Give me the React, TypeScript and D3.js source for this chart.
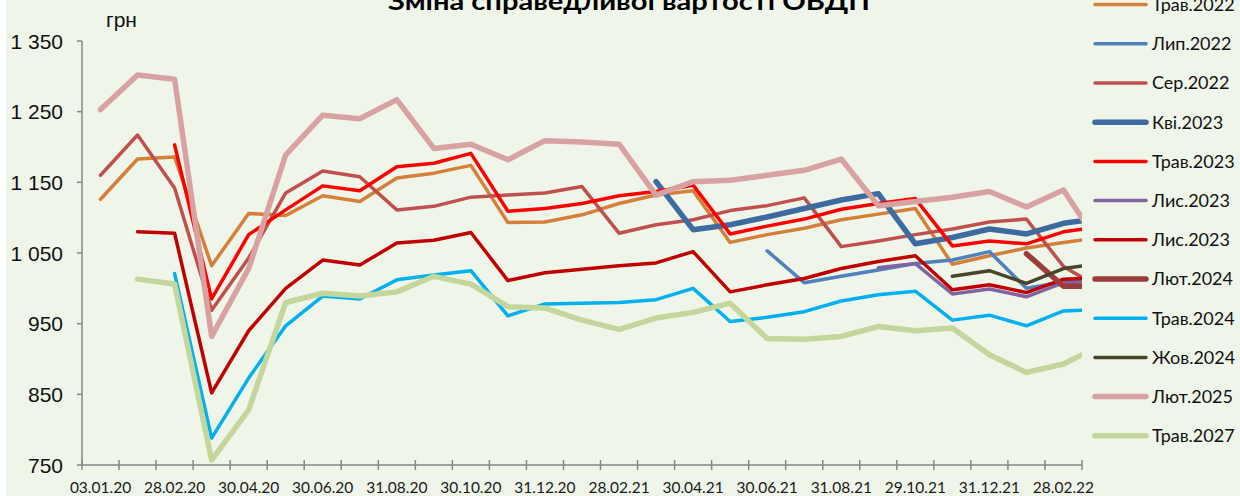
import React, { useRef, useEffect } from "react";
import * as d3 from "d3";

// дати (місячні зрізи), остання точка виходить за межу області графіка
const dates = [
  "03.01.20", "31.01.20", "28.02.20", "31.03.20", "30.04.20", "29.05.20", "30.06.20",
  "31.07.20", "31.08.20", "30.09.20", "30.10.20", "30.11.20", "31.12.20", "29.01.21",
  "28.02.21", "31.03.21", "30.04.21", "31.05.21", "30.06.21", "30.07.21", "31.08.21",
  "30.09.21", "29.10.21", "30.11.21", "31.12.21", "31.01.22", "28.02.22", "31.03.22",
];
const shownBands = 27;

const yTicks = [750, 850, 950, 1050, 1150, 1250, 1350];

const _ = null;
const trav2022 = [1126, 1183, 1186, 1032, 1106, 1103, 1131, 1123, 1156, 1163, 1174, 1093, 1094, 1104, 1120, 1132, 1138, 1065, 1076, 1085, 1097, 1105, 1113, 1034, 1046, 1057, 1065, 1072];
const lyp2022 = [_, _, _, _, _, _, _, _, _, _, _, _, _, _, _, _, _, _, 1053, 1008, 1017, 1026, 1035, 1040, 1052, 1000, 1009, 1011];
const ser2022 = [1160, 1217, 1142, 969, 1043, 1135, 1166, 1158, 1111, 1116, 1129, 1132, 1135, 1144, 1078, 1090, 1097, 1110, 1117, 1128, 1059, 1067, 1076, 1084, 1094, 1098, 1031, 1000];
const kvi2023 = [_, _, _, _, _, _, _, _, _, _, _, _, _, _, _, 1151, 1083, 1090, 1101, 1113, 1125, 1134, 1063, 1072, 1084, 1077, 1092, 1099];
const trav2023 = [_, _, 1203, 985, 1076, 1111, 1145, 1138, 1172, 1177, 1191, 1109, 1113, 1120, 1131, 1137, 1146, 1077, 1088, 1098, 1112, 1120, 1127, 1060, 1067, 1063, 1080, 1087];
const lys2023a = [_, _, _, _, _, _, _, _, _, _, _, _, _, _, _, _, _, _, _, _, _, 1029, 1035, 992, 999, 988, 1008, 1010];
const lys2023b = [_, 1080, 1078, 852, 940, 1000, 1040, 1033, 1064, 1068, 1079, 1011, 1022, 1027, 1032, 1036, 1052, 995, 1005, 1014, 1028, 1038, 1046, 998, 1005, 994, 1013, 1015];
const lyut2024 = [_, _, _, _, _, _, _, _, _, _, _, _, _, _, _, _, _, _, _, _, _, _, _, _, _, 1049, 1003, 1003];
const trav2024 = [_, _, 1021, 788, 873, 947, 989, 985, 1012, 1019, 1025, 961, 978, 979, 980, 984, 1000, 953, 959, 967, 982, 991, 996, 955, 962, 947, 968, 970];
const zhov2024 = [_, _, _, _, _, _, _, _, _, _, _, _, _, _, _, _, _, _, _, _, _, _, _, 1017, 1025, 1007, 1028, 1035];
const lyut2025 = [1253, 1302, 1296, 932, 1028, 1189, 1245, 1240, 1267, 1198, 1204, 1182, 1209, 1207, 1204, 1132, 1151, 1153, 1160, 1167, 1183, 1117, 1123, 1129, 1137, 1115, 1139, 1060];
const trav2027 = [_, 1013, 1006, 757, 828, 980, 993, 989, 995, 1017, 1006, 974, 972, 955, 942, 958, 966, 979, 929, 928, 932, 946, 940, 944, 906, 881, 893, 919];

const series = [
  { name: "Трав.2022", values: trav2022, color: "#D47F3A", w: 3.5 },
  { name: "Лип.2022", values: lyp2022, color: "#4F81BD", w: 3.5 },
  { name: "Сер.2022", values: ser2022, color: "#C0504D", w: 3.5 },
  { name: "Кві.2023", values: kvi2023, color: "#3D6A9F", w: 5.5 },
  { name: "Трав.2023", values: trav2023, color: "#FF0000", w: 3.5 },
  { name: "Лис.2023", values: lys2023a, color: "#8064A2", w: 3.5 },
  { name: "Лис.2023", values: lys2023b, color: "#C00000", w: 3.5 },
  { name: "Лют.2024", values: lyut2024, color: "#9B3D3B", w: 5.5 },
  { name: "Трав.2024", values: trav2024, color: "#00B0F0", w: 3.5 },
  { name: "Жов.2024", values: zhov2024, color: "#4A452A", w: 3.5 },
  { name: "Лют.2025", values: lyut2025, color: "#D8A2A2", w: 5.5 },
  { name: "Трав.2027", values: trav2027, color: "#C3D69B", w: 5.5 },
];

const App = () => {
  const ref = useRef<SVGSVGElement | null>(null);

  useEffect(() => {
    const width = 1240;
    const height = 496;
    const plot = { left: 82, right: 1082, top: 41, bottom: 465 };

    const svg = d3.select(ref.current);
    svg.selectAll("*").remove();

    svg.append("rect").attr("x", 6).attr("y", 0).attr("width", width - 6).attr("height", height).attr("fill", "#EFF6E9");

    const x = d3.scaleLinear().domain([-0.5, shownBands - 0.5]).range([plot.left, plot.right]);
    const y = d3.scaleLinear().domain([750, 1350]).range([plot.bottom, plot.top]);

    // заголовок (обрізаний зверху)
    svg.append("text")
      .attr("x", 629).attr("y", 10)
      .attr("text-anchor", "middle")
      .attr("font-family", "Lato, 'Open Sans', sans-serif")
      .attr("font-weight", "bold")
      .attr("font-size", 24)
      .attr("textLength", 482)
      .attr("lengthAdjust", "spacingAndGlyphs")
      .text("Зміна справедливої вартості ОВДП");

    svg.append("text")
      .attr("x", 106).attr("y", 27)
      .attr("font-family", "'Liberation Sans', Arial, sans-serif")
      .attr("font-size", 21)
      .attr("fill", "#111")
      .text("грн");

    // вісь Y
    const axisColor = "#878787";
    svg.append("line").attr("x1", plot.left).attr("x2", plot.left).attr("y1", plot.top).attr("y2", plot.bottom).attr("stroke", axisColor).attr("stroke-width", 1.5);
    const fmt = (v: number) => d3.format(",")(v).replace(",", " ");
    const yg = svg.append("g").selectAll("g").data(yTicks).join("g");
    yg.append("line").attr("x1", plot.left - 5).attr("x2", plot.left).attr("y1", (d) => y(d)).attr("y2", (d) => y(d)).attr("stroke", axisColor).attr("stroke-width", 1.5);
    yg.append("text")
      .attr("x", 63).attr("y", (d) => y(d)).attr("dy", "0.36em")
      .attr("text-anchor", "end")
      .attr("font-family", "'Liberation Sans', Arial, sans-serif")
      .attr("font-size", 21)
      .attr("fill", "#111")
      .text((d) => fmt(d));

    // вісь X
    svg.append("line").attr("x1", plot.left).attr("x2", plot.right).attr("y1", plot.bottom).attr("y2", plot.bottom).attr("stroke", axisColor).attr("stroke-width", 1.5);
    svg.append("g").selectAll("line").data(d3.range(shownBands + 1)).join("line")
      .attr("x1", (i) => x(i - 0.5)).attr("x2", (i) => x(i - 0.5))
      .attr("y1", plot.bottom - 5).attr("y2", plot.bottom + 5)
      .attr("stroke", axisColor).attr("stroke-width", 1.5);
    svg.append("g").selectAll("text")
      .data(dates.slice(0, shownBands).map((d, i) => ({ d, i })).filter((o) => o.i % 2 === 0))
      .join("text")
      .attr("x", (o) => x(o.i)).attr("y", 493)
      .attr("text-anchor", "middle")
      .attr("font-family", "Lato, 'Open Sans', sans-serif")
      .attr("font-size", 15.5)
      .attr("fill", "#1a1a1a")
      .text((o) => o.d);

    // лінії
    svg.append("clipPath").attr("id", "plotclip").append("rect")
      .attr("x", plot.left).attr("y", 0).attr("width", plot.right - plot.left).attr("height", plot.bottom);
    const line = d3.line<number | null>()
      .defined((d) => d != null)
      .x((_d, i) => x(i))
      .y((d) => y(d as number));
    svg.append("g").attr("clip-path", "url(#plotclip)")
      .selectAll("path").data(series).join("path")
      .attr("d", (s) => line(s.values))
      .attr("fill", "none")
      .attr("stroke", (s) => s.color)
      .attr("stroke-width", (s) => s.w)
      .attr("stroke-linejoin", "round")
      .attr("stroke-linecap", "round");

    // легенда
    const lg = svg.append("g").selectAll("g").data(series).join("g")
      .attr("transform", (_s, i) => `translate(0,${4.6 + 39.2 * i})`);
    lg.append("line").attr("x1", 1095).attr("x2", 1146).attr("y1", 0).attr("y2", 0)
      .attr("stroke", (s) => s.color).attr("stroke-width", (s) => s.w).attr("stroke-linecap", "round");
    lg.append("text").attr("x", 1152).attr("y", 0).attr("dy", "0.36em")
      .attr("font-family", "Lato, 'Open Sans', sans-serif")
      .attr("font-size", 18)
      .attr("fill", "#111")
      .text((s) => s.name);
  }, []);

  return (
    <div style={{ position: "absolute", left: 0, top: 0 }}>
      <svg ref={ref} width={1240} height={496} style={{ display: "block" }}></svg>
    </div>
  );
};

export default App;
